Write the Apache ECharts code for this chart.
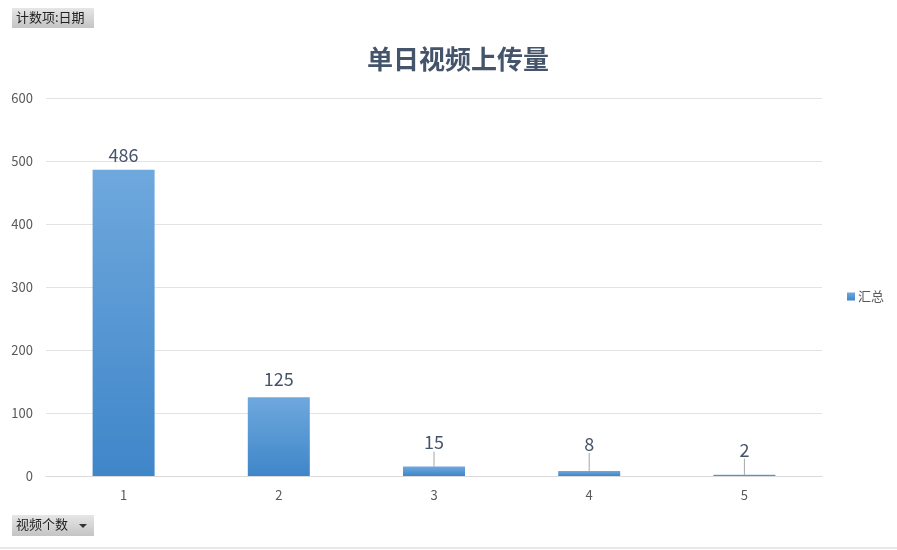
<!DOCTYPE html>
<html>
<head>
<meta charset="utf-8">
<script src="https://cdn.jsdelivr.net/npm/echarts@6/dist/echarts.min.js"></script>
<style>
  html,body{margin:0;padding:0;background:#fff;}
  #main{width:897px;height:550px;}
</style>
</head>
<body>
<div id="main"></div>
<script>
// 数据
var categories = ['1', '2', '3', '4', '5'];
var counts = [486, 125, 15, 8, 2];
var yTicks = [0, 100, 200, 300, 400, 500, 600];
// 小柱子的标签往上挪一点，带引导线
var labelLift = [0, 3, 9, 12, 10];

(function(){
    var chart = echarts.init(document.getElementById('main'));
    var font = '"Microsoft YaHei","Noto Sans CJK SC",sans-serif';
    var barData = [];
    for (var i = 0; i < counts.length; i++) {
        barData.push({value: counts[i], labelLine: {show: labelLift[i] > 5}});
    }
    var option = {
        animation: false,
        title: {
            text: '单日视频上传量',
            left: 362,
            top: 41,
            textStyle: {fontSize: 26, fontWeight: 'bold', color: '#44546a', fontFamily: font}
        },
        legend: {
            right: 8,
            top: 285,
            orient: 'vertical',
            itemWidth: 8,
            itemHeight: 8,
            itemGap: 4,
            icon: 'rect',
            data: ['汇总'],
            textStyle: {fontSize: 13, color: '#595959', fontFamily: font, padding: [0, 0, 0, -2]}
        },
        grid: {left: 46, right: 75, top: 98, bottom: 74, containLabel: false},
        xAxis: {
            type: 'category',
            data: categories,
            axisLine: {lineStyle: {color: '#d9d9d9'}},
            axisTick: {show: false},
            axisLabel: {color: '#595959', fontSize: 13, margin: 13, fontFamily: font}
        },
        yAxis: {
            type: 'value',
            min: yTicks[0],
            max: yTicks[yTicks.length - 1],
            interval: 100,
            axisLine: {show: false},
            axisTick: {show: false},
            splitLine: {lineStyle: {color: '#e3e3e3'}},
            axisLabel: {color: '#595959', fontSize: 13, margin: 13, align: 'right', fontFamily: font}
        },
        series: [{
            name: '汇总',
            type: 'bar',
            barWidth: 62,
            data: barData,
            itemStyle: {
                color: new echarts.graphic.LinearGradient(0, 0, 0, 1, [
                    {offset: 0, color: '#6fa8dd'},
                    {offset: 1, color: '#3f86c9'}
                ])
            },
            label: {
                show: true,
                position: 'top',
                distance: 6,
                color: '#44546a',
                fontSize: 18,
                fontFamily: font
            },
            labelLayout: function(p){
                return {dy: -labelLift[p.dataIndex]};
            },
            labelLine: {show: true, lineStyle: {color: '#a6a6a6', width: 1}, length2: 0}
        }],
        graphic: [
            {
                type: 'group', left: 12, top: 8,
                children: [
                    {type: 'rect', shape: {x: 0, y: 0, width: 82, height: 20},
                        style: {fill: new echarts.graphic.LinearGradient(0, 0, 0, 1, [
                            {offset: 0, color: '#e6e6e6'}, {offset: 1, color: '#c4c4c4'}])}},
                    {type: 'text', left: 4, top: 3,
                        style: {text: '计数项:日期', fontSize: 13, fill: '#222', fontFamily: font}}
                ]
            },
            {
                type: 'group', left: 12, top: 515,
                children: [
                    {type: 'rect', shape: {x: 0, y: 0, width: 82, height: 21},
                        style: {fill: new echarts.graphic.LinearGradient(0, 0, 0, 1, [
                            {offset: 0, color: '#e6e6e6'}, {offset: 1, color: '#c4c4c4'}])}},
                    {type: 'text', left: 4, top: 3,
                        style: {text: '视频个数', fontSize: 13, fill: '#222', fontFamily: font}},
                    {type: 'polygon', shape: {points: [[67, 9], [75, 9], [71, 13]]},
                        style: {fill: '#333'}}
                ]
            },
            {type: 'line', shape: {x1: 0, y1: 548, x2: 897, y2: 548}, style: {stroke: '#d0d0d0'}}
        ]
    };
    chart.setOption(option);
})();
</script>
</body>
</html>
